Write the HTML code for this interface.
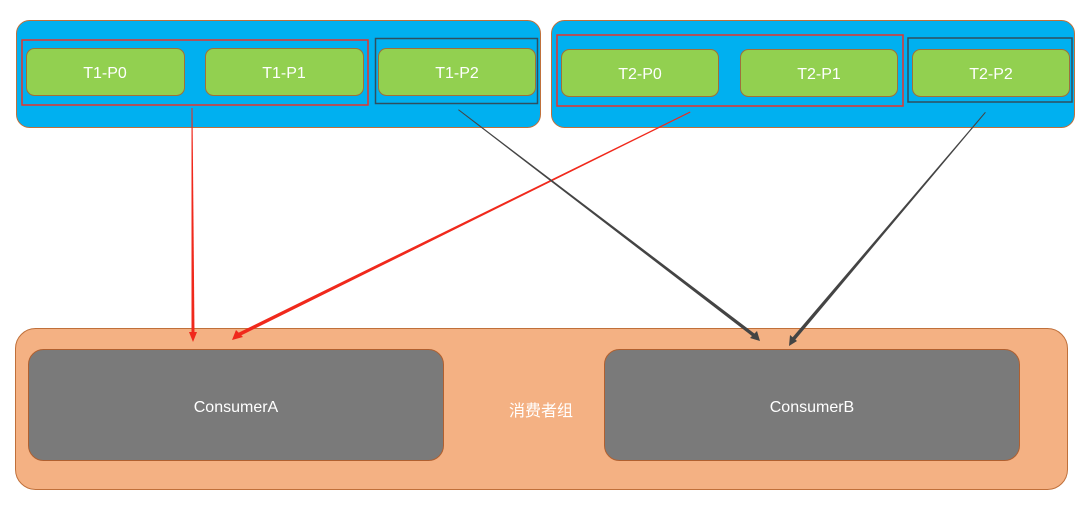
<!DOCTYPE html>
<html><head><meta charset="utf-8"><style>
html,body{margin:0;padding:0;background:#fff;}
svg{display:block;}
text{font-family:"Liberation Sans","Noto Sans CJK SC",sans-serif;fill:#fff;}
</style></head><body>
<svg width="1080" height="528" viewBox="0 0 1080 528" xmlns="http://www.w3.org/2000/svg">
<!-- top group boxes -->
<rect x="16.5" y="20.5" width="524" height="107" rx="13" fill="#00b0f0" stroke="#c0703a" stroke-width="1"/>
<rect x="551.5" y="20.5" width="523" height="107" rx="13" fill="#00b0f0" stroke="#c0703a" stroke-width="1"/>
<!-- group rects -->
<rect x="22" y="40" width="346" height="65" fill="none" stroke="#e8332a" stroke-width="1.5"/>
<rect x="375.5" y="38.5" width="162" height="65" fill="none" stroke="#2f4f5f" stroke-width="1.5"/>
<rect x="557" y="35" width="346" height="71" fill="none" stroke="#e8332a" stroke-width="1.5"/>
<rect x="908" y="38" width="164" height="64" fill="none" stroke="#2f4f5f" stroke-width="1.5"/>
<!-- partitions -->
<g fill="#92d050" stroke="#a0703a" stroke-width="1">
<rect x="26.5" y="48.5" width="158" height="47" rx="8"/>
<rect x="205.5" y="48.5" width="158" height="47" rx="8"/>
<rect x="378.5" y="48.5" width="157" height="47" rx="8"/>
<rect x="561.5" y="49.5" width="157" height="47" rx="8"/>
<rect x="740.5" y="49.5" width="157" height="47" rx="8"/>
<rect x="912.5" y="49.5" width="157" height="47" rx="8"/>
</g>
<g font-size="16" text-anchor="middle">
<text x="105" y="78">T1-P0</text>
<text x="284" y="78">T1-P1</text>
<text x="457" y="78">T1-P2</text>
<text x="640" y="79">T2-P0</text>
<text x="819" y="79">T2-P1</text>
<text x="991" y="79">T2-P2</text>
</g>
<!-- consumer group -->
<rect x="15.5" y="328.5" width="1052" height="161" rx="20" fill="#f4b183" stroke="#c0703a" stroke-width="1"/>
<rect x="28.5" y="349.5" width="415" height="111" rx="15" fill="#7a7a7a" stroke="#b06030" stroke-width="1"/>
<rect x="604.5" y="349.5" width="415" height="111" rx="15" fill="#7a7a7a" stroke="#b06030" stroke-width="1"/>
<text x="236" y="412" font-size="16" text-anchor="middle">ConsumerA</text>
<text x="812" y="412" font-size="16" text-anchor="middle">ConsumerB</text>
<text x="541" y="416" font-size="16" text-anchor="middle">消费者组</text>
<!-- arrows (tapered) -->
<polygon points="191.5,108 192.5,108 194.5,334 191.5,334" fill="#f0291c"/>
<polygon points="189,332 197,332 193,342" fill="#f0291c"/>
<polygon points="690,111.5 690.5,112.5 240,336 238,333" fill="#f0291c"/>
<polygon points="232,340 236,330 243,337" fill="#f0291c"/>
<polygon points="458,110 458.8,109.4 755,334 752.6,336.5" fill="#444"/>
<polygon points="760,341 750,338 757,331" fill="#444"/>
<polygon points="985,112 985.8,112.6 795,340 792.2,337.7" fill="#444"/>
<polygon points="789,346 790,335 797,341" fill="#444"/>
</svg>
</body></html>
